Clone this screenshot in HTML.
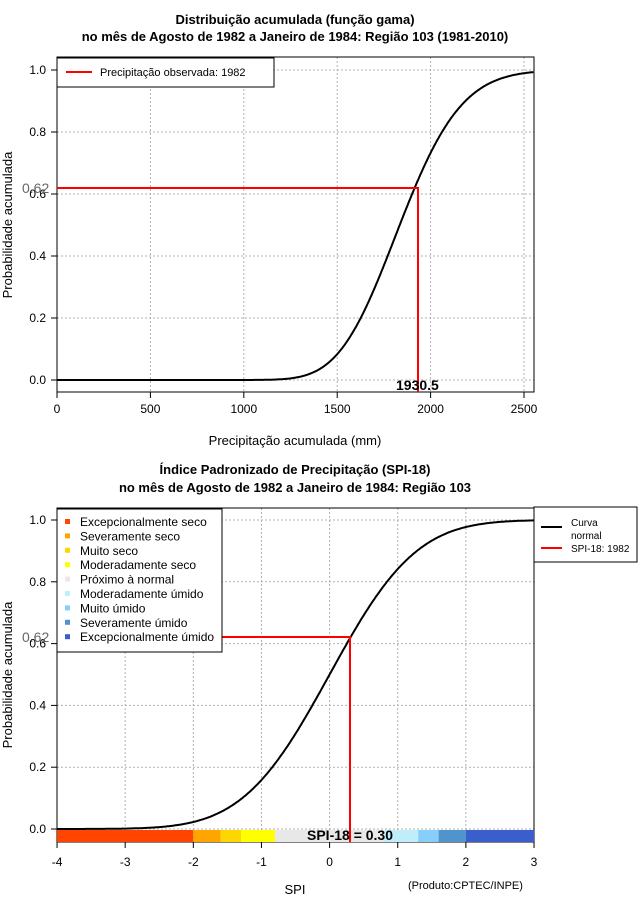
<!DOCTYPE html>
<html><head><meta charset="utf-8"><style>
body{margin:0;background:#fff}
svg{font-family:"Liberation Sans",sans-serif;display:block}
</style></head><body>
<svg id="s" width="640" height="900" xmlns="http://www.w3.org/2000/svg">
<rect width="640" height="900" fill="#fff"/>
<g font-weight="bold" font-size="13" text-anchor="middle" fill="#000">
<text x="295" y="24">Distribuição acumulada (função gama)</text>
<text x="295" y="41">no mês de Agosto de 1982 a Janeiro de 1984: Região 103 (1981-2010)</text>
<text x="295" y="474">Índice Padronizado de Precipitação (SPI-18)</text>
<text x="295" y="492">no mês de Agosto de 1982 a Janeiro de 1984: Região 103</text>
</g>
<g id="grid" stroke="#b0b0b0" stroke-dasharray="2,2" stroke-width="1"></g>
<!-- top frame -->
<rect x="57" y="57" width="477" height="335" fill="none" stroke="#000"/>
<rect x="57" y="508" width="477" height="334" fill="none" stroke="#000"/>
<!-- color bar -->
<g id="bar"></g>
<path id="c1" fill="none" stroke="#000" stroke-width="2"/>
<path id="c2" fill="none" stroke="#000" stroke-width="2"/>
<polyline points="57,188 418,188 418,392" fill="none" stroke="#f00" stroke-width="2"/>
<polyline points="57,637 350,637 350,842" fill="none" stroke="#f00" stroke-width="2"/>
<g font-size="12" fill="#000" id="ticks"></g>
<text x="22" y="193" font-size="14" fill="#666">0.62</text>
<text x="22" y="642" font-size="14" fill="#666">0.62</text>
<text x="396" y="390" font-size="14" font-weight="bold">1930.5</text>
<text x="307" y="840" font-size="14" font-weight="bold">SPI-18 = 0.30</text>
<text x="295" y="445" font-size="13" text-anchor="middle">Precipitação acumulada (mm)</text>
<text x="295" y="894" font-size="13" text-anchor="middle">SPI</text>
<text x="408" y="889" font-size="11">(Produto:CPTEC/INPE)</text>
<text transform="translate(12,225) rotate(-90)" font-size="13" text-anchor="middle">Probabilidade acumulada</text>
<text transform="translate(12,675) rotate(-90)" font-size="13" text-anchor="middle">Probabilidade acumulada</text>
<!-- legends -->
<rect x="57" y="58" width="217" height="29" fill="#fff" stroke="#000"/>
<line x1="66" y1="72" x2="92" y2="72" stroke="#f00" stroke-width="2"/>
<text x="100" y="76" font-size="11">Precipitação observada: 1982</text>
<rect x="57" y="509" width="165" height="143" fill="#fff" stroke="#000"/>
<g id="leg" font-size="12"></g>
<rect x="534" y="507" width="103" height="55" fill="#fff" stroke="#000"/>
<line x1="541" y1="527" x2="562" y2="527" stroke="#000" stroke-width="2"/>
<line x1="541" y1="548" x2="562" y2="548" stroke="#f00" stroke-width="2"/>
<text x="571" y="526" font-size="10">Curva</text>
<text x="571" y="539" font-size="10">normal</text>
<text x="571" y="552" font-size="10">SPI-18: 1982</text>
</svg>
<script>
const NS="http://www.w3.org/2000/svg";
function el(p,t,a,txt){const e=document.createElementNS(NS,t);for(const k in a)e.setAttribute(k,a[k]);if(txt!==undefined)e.textContent=txt;document.getElementById(p).appendChild(e);return e;}
function Phi(z){const t=1/(1+0.2316419*Math.abs(z));const d=0.3989423*Math.exp(-z*z/2);let p=d*t*(0.3193815+t*(-0.3565638+t*(1.781478+t*(-1.821256+t*1.330274))));return z>0?1-p:p;}
// top axes
const tx=v=>57+v*0.1868, ty=p=>380-p*310;
const bx=v=>329.6+v*68.14, by=p=>829-p*309;
for(let v=500;v<=2500;v+=500){el("grid","line",{x1:tx(v),y1:57,x2:tx(v),y2:392});}
for(let p=0;p<=1.01;p+=0.2){el("grid","line",{x1:57,y1:ty(p),x2:534,y2:ty(p)});el("grid","line",{x1:57,y1:by(p),x2:534,y2:by(p)});}
for(let v=-3;v<=2;v++){el("grid","line",{x1:bx(v),y1:508,x2:bx(v),y2:842});}
for(let v=0;v<=2500;v+=500){el("ticks","line",{x1:tx(v),y1:392,x2:tx(v),y2:398,stroke:"#000"});el("ticks","text",{x:tx(v),y:413,"text-anchor":"middle"},String(v));}
for(let v=-4;v<=3;v++){el("ticks","line",{x1:bx(v),y1:842,x2:bx(v),y2:848,stroke:"#000"});el("ticks","text",{x:bx(v),y:866,"text-anchor":"middle"},String(v));}
for(let i=0;i<=5;i++){const p=i*0.2,l=p.toFixed(1);
el("ticks","line",{x1:51,y1:ty(p),x2:57,y2:ty(p),stroke:"#000"});el("ticks","text",{x:46,y:ty(p)+4,"text-anchor":"end"},l);
el("ticks","line",{x1:51,y1:by(p),x2:57,y2:by(p),stroke:"#000"});el("ticks","text",{x:46,y:by(p)+4,"text-anchor":"end"},l);}
// curves
const k=50.6,th=36.5;let d="";
for(let x=0;x<=2550;x+=5){let p=0;if(x>0){const m=1-1/(9*k),s=Math.sqrt(1/(9*k));p=Phi((Math.cbrt(x/(k*th))-m)/s);}d+=(x?"L":"M")+tx(x).toFixed(1)+","+ty(p).toFixed(1);}
document.getElementById("c1").setAttribute("d",d);
d="";for(let v=-4;v<=3.001;v+=0.02){d+=(v===-4?"M":"L")+bx(v).toFixed(1)+","+by(Phi(v)).toFixed(1);}
document.getElementById("c2").setAttribute("d",d);
// bar
const seg=[[-4,-2,"#ff4500"],[-2,-1.6,"#ffa500"],[-1.6,-1.3,"#ffd700"],[-1.3,-0.8,"#ffff00"],[-0.8,0.8,"#e8e8e8"],[0.8,1.3,"#bfeefa"],[1.3,1.6,"#87cefa"],[1.6,2,"#4f94cd"],[2,3,"#3a5fcd"]];
seg.forEach(s=>el("bar","rect",{x:bx(s[0]),y:830,width:bx(s[1])-bx(s[0]),height:12,fill:s[2]}));
const names=["Excepcionalmente seco","Severamente seco","Muito seco","Moderadamente seco","Próximo à normal","Moderadamente úmido","Muito úmido","Severamente úmido","Excepcionalmente úmido"];
names.forEach((n,i)=>{const y=522+i*14.4;el("leg","rect",{x:65,y:y-3,width:5,height:5,fill:seg[i][2]});el("leg","text",{x:80,y:y+4},n);});
</script>
</body></html>
